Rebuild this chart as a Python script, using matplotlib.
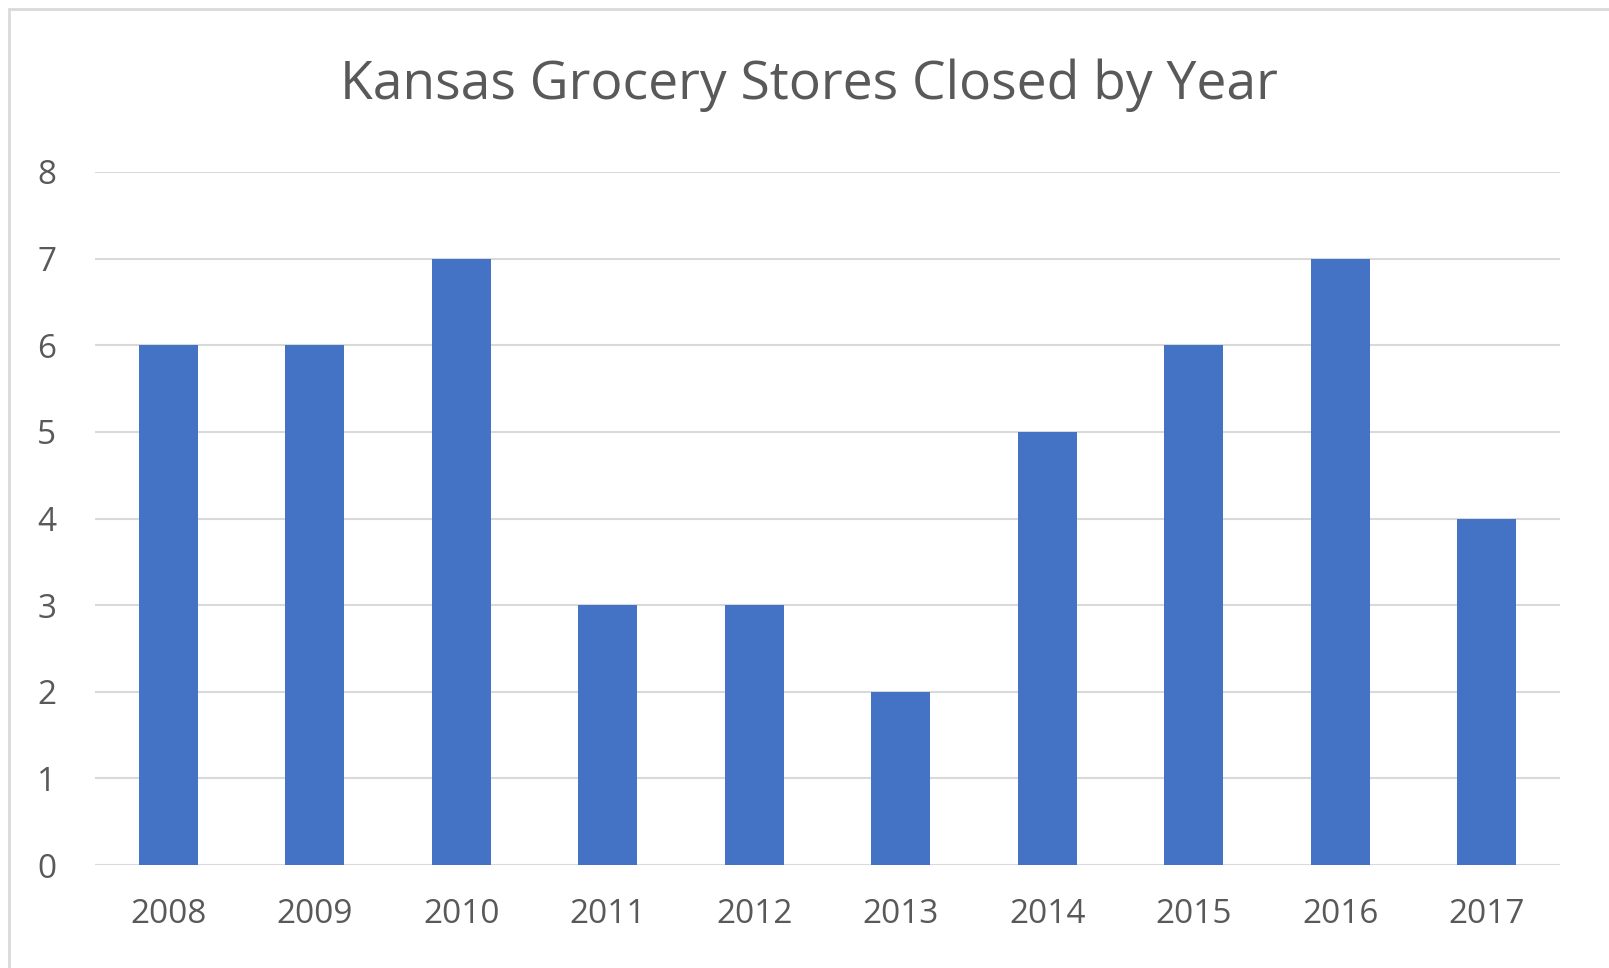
import numpy as np
from matplotlib import pyplot as plt
from matplotlib.patches import Rectangle

years = ["2008", "2009", "2010", "2011", "2012", "2013", "2014", "2015", "2016", "2017"]
closed = [6, 6, 7, 3, 3, 2, 5, 6, 7, 4]

plt.rcParams["font.family"] = ["Open Sans", "DejaVu Sans"]
txt = "#595959"

fig = plt.figure(figsize=(16.09, 9.68), dpi=100)
ax = fig.add_axes([95/1609, 1-865/968, 1465/1609, 693/968])

x = np.arange(len(years))
ax.bar(x, closed, width=0.4, color="#4472C4", zorder=3)

ax.set_xlim(-0.5, len(years)-0.5)
ax.set_ylim(0, 8)
ax.set_yticks(range(9))
ax.set_xticks(x)
ax.set_xticklabels(years)
ax.grid(axis="y", color="#D9D9D9", linewidth=1.5, zorder=0)
for s in ax.spines.values():
    s.set_visible(False)
ax.tick_params(length=0, labelsize=24, colors=txt)
ax.tick_params(axis="x", pad=24)
ax.tick_params(axis="y", pad=28)

fig.text(809/1609, 1-85/968, "Kansas Grocery Stores Closed by Year",
         ha="center", va="center", fontsize=38.4, color=txt)

# chart border (only top and left edges visible in the crop)
fig.patches.append(Rectangle((9/1609, -0.1), 1.2, 1-9/968+0.1, transform=fig.transFigure,
                             fill=False, edgecolor="#D9D9D9", linewidth=2))

fig.savefig("out.png", dpi=100)
